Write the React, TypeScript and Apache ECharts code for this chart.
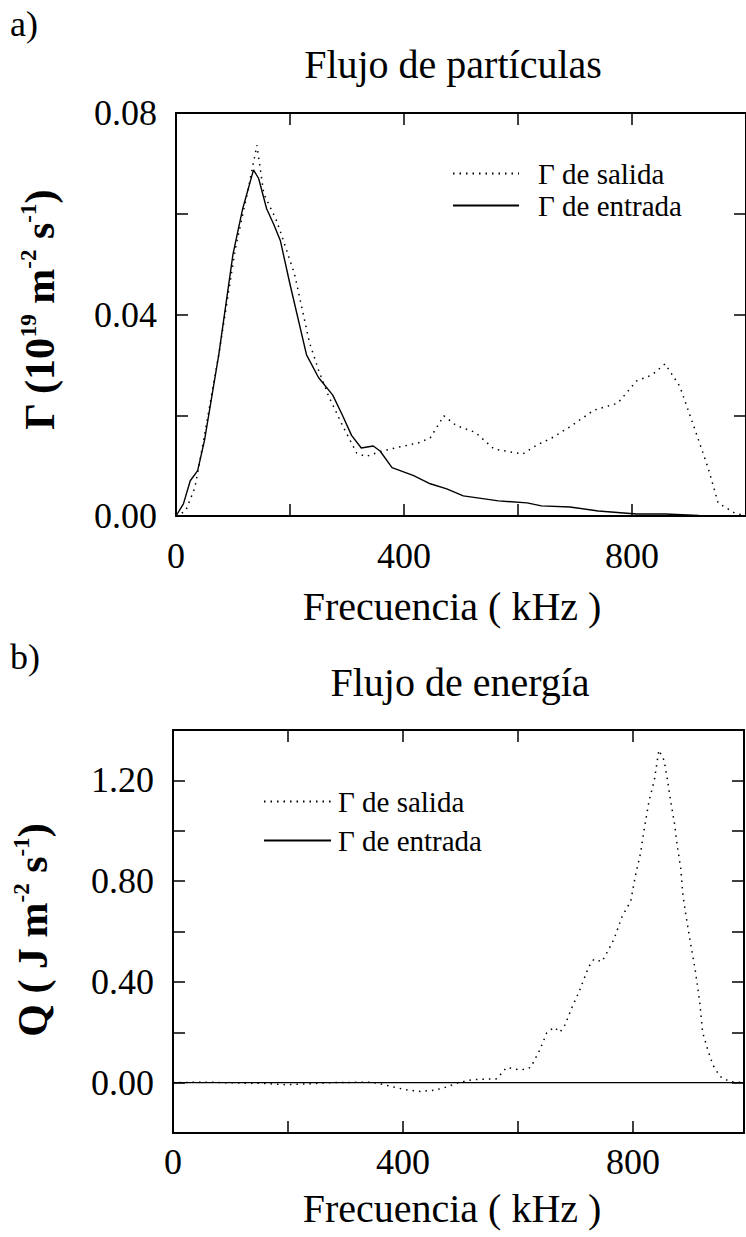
import React, { useEffect, useRef } from "react";
import * as echarts from "echarts";

// ---- Data: (a) Flujo de partículas ----
const topFreqOut = [0, 17, 33, 46, 75, 104, 125, 142, 154, 175, 183, 208, 234, 250, 267, 292, 317, 333, 358, 396, 425, 446, 470, 491, 525, 558, 583, 608, 633, 658, 691, 733, 775, 808, 835, 858, 884, 910, 934, 951, 980, 1000];
const topOut = [0, 0.001, 0.0056, 0.0135, 0.032, 0.053, 0.064, 0.0736, 0.064, 0.059, 0.0565, 0.048, 0.0345, 0.029, 0.024, 0.018, 0.0125, 0.0118, 0.0128, 0.0138, 0.0145, 0.0155, 0.0199, 0.018, 0.0166, 0.0133, 0.0128, 0.0123, 0.0141, 0.0154, 0.0177, 0.021, 0.0224, 0.0268, 0.028, 0.0302, 0.0257, 0.0173, 0.0094, 0.0026, 0.0006, 0];
const topFreqIn = [0, 13, 25, 38, 50, 75, 100, 117, 136, 145, 159, 171, 183, 200, 229, 250, 275, 292, 308, 325, 346, 358, 379, 417, 446, 475, 504, 566, 616, 641, 691, 741, 808, 858, 917, 1000];
const topIn = [0, 0.0024, 0.007, 0.009, 0.015, 0.032, 0.052, 0.061, 0.0687, 0.067, 0.061, 0.058, 0.0547, 0.046, 0.032, 0.0275, 0.024, 0.02, 0.016, 0.0135, 0.0139, 0.0129, 0.0096, 0.008, 0.0064, 0.0054, 0.004, 0.003, 0.0026, 0.002, 0.0018, 0.001, 0.0004, 0.0004, 0.0001, 0];

// ---- Data: (b) Flujo de energía ----
const botFreqOut = [0, 60, 120, 155, 195, 240, 279, 346, 370, 388, 410, 430, 455, 472, 497, 521, 563, 580, 605, 622, 638, 650, 663, 673, 682, 694, 706, 723, 732, 746, 758, 767, 781, 796, 804, 813, 819, 828, 837, 845, 854, 860, 866, 872, 877, 883, 887, 893, 901, 908, 916, 921, 930, 939, 951, 968, 993];
const botOut = [0, 0.002, -0.002, -0.003, -0.008, -0.004, 0, 0.002, -0.01, -0.02, -0.03, -0.035, -0.03, -0.02, 0, 0.012, 0.015, 0.06, 0.05, 0.06, 0.13, 0.198, 0.22, 0.2, 0.23, 0.3, 0.36, 0.46, 0.49, 0.48, 0.53, 0.57, 0.66, 0.72, 0.82, 0.91, 1.0, 1.12, 1.2, 1.32, 1.28, 1.2, 1.11, 1.03, 0.94, 0.85, 0.74, 0.65, 0.54, 0.45, 0.32, 0.2, 0.13, 0.07, 0.025, 0.004, 0];
const botFreqIn = [0, 200, 400, 600, 800, 993];
const botIn = [0, 0, 0, 0, 0, 0];

// ---- Tick labels ----
const xTickLabels = ["0", "400", "800"];
const topYTickLabels = ["0.00", "0.04", "0.08"];
const botYTickLabels = ["0.00", "0.40", "0.80", "1.20"];
const seriesNames = ["\u0393 de salida", "\u0393 de entrada"];

const FONT = "Liberation Serif";
const BLACK = "#000";
const TICK_FONT = 36;

const pairs = (xs: number[], ys: number[]) => xs.map((x, i) => [x, ys[i]]);

function xAxes(grid: number, max: number, margin: number) {
  const common = {
    type: "value" as const,
    gridIndex: grid,
    min: 0,
    max,
    interval: 200,
    axisLine: { show: true, onZero: false, lineStyle: { color: BLACK, width: 2 } },
    axisTick: { show: true, inside: true, length: 12, lineStyle: { color: BLACK, width: 1.5 } },
    splitLine: { show: false },
  };
  return [
    {
      ...common,
      position: "bottom",
      axisLabel: {
        show: true,
        margin,
        fontFamily: FONT,
        fontSize: TICK_FONT,
        color: BLACK,
        showMaxLabel: false,
        formatter: (v: number) => (xTickLabels.includes(String(v)) ? String(v) : ""),
      },
    },
    { ...common, position: "top", axisLabel: { show: false } },
  ];
}

function yAxes(grid: number, min: number, max: number, interval: number, labels: string[]) {
  const common = {
    type: "value" as const,
    gridIndex: grid,
    min,
    max,
    interval,
    axisLine: { show: true, onZero: false, lineStyle: { color: BLACK, width: 2 } },
    axisTick: { show: true, inside: true, length: 12, lineStyle: { color: BLACK, width: 1.5 } },
    splitLine: { show: false },
  };
  return [
    {
      ...common,
      position: "left",
      axisLabel: {
        show: true,
        margin: 19,
        fontFamily: FONT,
        fontSize: TICK_FONT,
        color: BLACK,
        formatter: (v: number) => {
          const s = v.toFixed(2);
          return labels.includes(s) ? s : "";
        },
      },
    },
    { ...common, position: "right", axisLabel: { show: false } },
  ];
}

const dotted = { color: BLACK, width: 1.5, type: [1.5, 5] as number[] };
const solid = { color: BLACK, width: 1.4, type: "solid" as const };

function plainText(text: string, x: number, y: number, size: number, align = "center") {
  return {
    type: "text",
    x,
    y,
    style: {
      text,
      fontFamily: FONT,
      fontSize: size,
      fill: BLACK,
      align,
      verticalAlign: "middle",
    },
  };
}

function yName(text: string, x: number, y: number) {
  return {
    type: "text",
    x,
    y,
    rotation: Math.PI / 2,
    style: {
      text,
      fontFamily: FONT,
      fontSize: 42,
      fontWeight: "bold",
      fill: BLACK,
      align: "center",
      verticalAlign: "middle",
      rich: {
        b: { fontFamily: FONT, fontSize: 42, fontWeight: "bold", lineHeight: 46, fill: BLACK },
        s: { fontFamily: FONT, fontSize: 23, fontWeight: "bold", lineHeight: 23, verticalAlign: "top", fill: BLACK },
      },
    },
  };
}

export default function App() {
  const ref = useRef<HTMLDivElement>(null);
  useEffect(() => {
    if (!ref.current) return;
    const chart = echarts.init(ref.current, undefined, { renderer: "svg" });
    const legendCommon = {
      data: seriesNames,
      orient: "vertical",
      itemHeight: 14,
      padding: 0,
      selectedMode: false,
      itemStyle: { opacity: 0 },
    };
    chart.setOption({
      animation: false,
      backgroundColor: "#fff",
      textStyle: { fontFamily: FONT },
      grid: [
        { left: 176, top: 113, width: 572, height: 403 },
        { left: 173, top: 730, width: 571, height: 403 },
      ],
      xAxis: [...xAxes(0, 1000, 22), ...xAxes(1, 993, 11)],
      yAxis: [
        ...yAxes(0, 0, 0.08, 0.02, topYTickLabels),
        ...yAxes(1, -0.2, 1.4, 0.2, botYTickLabels),
      ],
      legend: [
        {
          ...legendCommon,
          left: 452,
          top: 159,
          itemWidth: 66,
          itemGap: 3,
          textStyle: { fontFamily: FONT, fontSize: 29, color: BLACK, padding: [0, 0, 0, 14] },
        },
        {
          ...legendCommon,
          left: 263,
          top: 787,
          itemWidth: 67,
          itemGap: 10,
          textStyle: { fontFamily: FONT, fontSize: 29, color: BLACK, padding: [0, 0, 0, 2] },
        },
      ],
      series: [
        {
          name: seriesNames[0],
          type: "line",
          xAxisIndex: 0,
          yAxisIndex: 0,
          data: pairs(topFreqOut, topOut),
          symbol: "none",
          lineStyle: dotted,
          itemStyle: { color: BLACK },
        },
        {
          name: seriesNames[1],
          type: "line",
          xAxisIndex: 0,
          yAxisIndex: 0,
          data: pairs(topFreqIn, topIn),
          symbol: "none",
          lineStyle: solid,
          itemStyle: { color: BLACK },
        },
        {
          name: seriesNames[0],
          type: "line",
          xAxisIndex: 2,
          yAxisIndex: 2,
          data: pairs(botFreqOut, botOut),
          symbol: "none",
          lineStyle: dotted,
          itemStyle: { color: BLACK },
        },
        {
          name: seriesNames[1],
          type: "line",
          xAxisIndex: 2,
          yAxisIndex: 2,
          data: pairs(botFreqIn, botIn),
          symbol: "none",
          lineStyle: solid,
          itemStyle: { color: BLACK },
        },
      ],
      graphic: [
        plainText("a)", 10, 24, 36, "left"),
        plainText("Flujo de partículas", 453, 64, 40),
        plainText("Frecuencia ( kHz )", 452, 606, 40),
        yName("{b|\u0393 (10}{s|19}{b| m}{s|-2}{b| s}{s|-1}{b|)}", 40, 310),
        plainText("b)", 10, 657, 36, "left"),
        plainText("Flujo de energía", 460, 682, 40),
        plainText("Frecuencia ( kHz )", 452, 1208, 40),
        yName("{b|Q ( J m}{s|-2}{b| s}{s|-1}{b|)}", 33, 930),
      ],
    });
    return () => chart.dispose();
  }, []);
  return (
    <div
      ref={ref}
      style={{ position: "absolute", left: 0, top: 0, width: 746, height: 1237, background: "#fff" }}
    />
  );
}
